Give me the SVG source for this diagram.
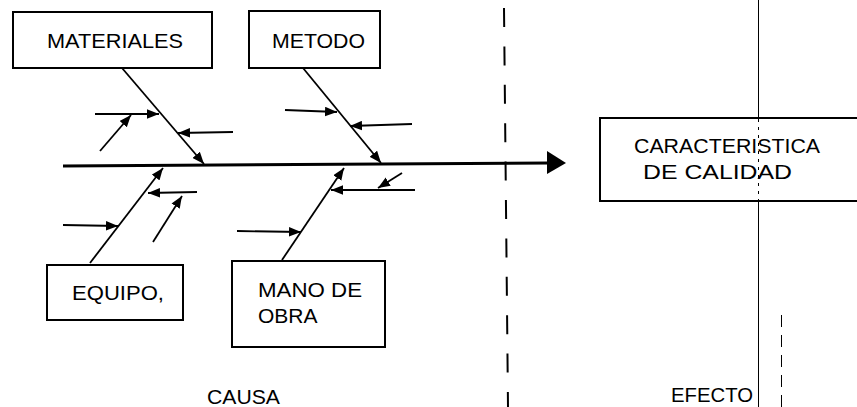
<svg xmlns="http://www.w3.org/2000/svg" width="857" height="407" viewBox="0 0 857 407">
<style>
.box{fill:#fff;stroke:#000;stroke-width:2}
.t{font-family:"Liberation Sans",Arial,sans-serif;font-size:21px;fill:#000}
.sub{stroke:#000;stroke-width:1.8;fill:none;marker-end:url(#ah)}
</style>
<defs>
<marker id="ah" viewBox="0 0 10 8" refX="10" refY="4" markerWidth="12" markerHeight="10" markerUnits="userSpaceOnUse" orient="auto">
<path d="M0,0 L10,4 L0,8 z" fill="#000"/>
</marker>
</defs>
<rect width="857" height="407" fill="#fff"/>
<g id="dividers">
<line x1="504" y1="8" x2="508" y2="407" stroke="#000" stroke-width="2" stroke-dasharray="19 19.4"/>
<line x1="758.5" y1="0" x2="758.5" y2="407" stroke="#000" stroke-width="1"/>
<line x1="781.5" y1="315" x2="781.5" y2="407" stroke="#000" stroke-width="1" stroke-dasharray="12 8"/>
</g>
<g id="connectors">
<line x1="63" y1="166" x2="550" y2="163" stroke="#000" stroke-width="3"/>
<polygon points="547,151 566,163 547,174" fill="#000"/>
<line class="sub" x1="122" y1="68" x2="204" y2="164"/>
<line class="sub" x1="95" y1="114" x2="159" y2="114"/>
<line class="sub" x1="100" y1="151" x2="131" y2="115"/>
<line class="sub" x1="233" y1="132" x2="178" y2="133"/>
<line class="sub" x1="303" y1="68" x2="381" y2="163"/>
<line class="sub" x1="285" y1="110" x2="337" y2="112"/>
<line class="sub" x1="412" y1="124" x2="350" y2="126"/>
<line class="sub" x1="90" y1="263" x2="163" y2="168"/>
<line class="sub" x1="63" y1="225" x2="118" y2="226"/>
<line class="sub" x1="197" y1="192" x2="148" y2="193"/>
<line class="sub" x1="153" y1="242" x2="182" y2="196"/>
<line class="sub" x1="282" y1="260" x2="344" y2="168"/>
<line class="sub" x1="237" y1="231" x2="301" y2="232"/>
<line class="sub" x1="415" y1="190" x2="331" y2="190"/>
<line class="sub" x1="402" y1="173" x2="378" y2="188"/>
</g>
<g id="materiales">
<rect class="box" x="13" y="12" width="199" height="56"/>
<text class="t" x="47" y="48" textLength="136" lengthAdjust="spacingAndGlyphs">MATERIALES</text>
</g>
<g id="metodo">
<rect class="box" x="249" y="11" width="131" height="57"/>
<text class="t" x="272" y="48" textLength="93" lengthAdjust="spacingAndGlyphs">METODO</text>
</g>
<g id="equipo">
<rect class="box" x="47" y="265" width="136" height="55"/>
<text class="t" x="72" y="300" textLength="92" lengthAdjust="spacingAndGlyphs">EQUIPO,</text>
</g>
<g id="mano-de-obra">
<rect class="box" x="232" y="261" width="153" height="86"/>
<text class="t" x="258" y="297" textLength="104" lengthAdjust="spacingAndGlyphs">MANO DE</text>
<text class="t" x="258" y="323">OBRA</text>
</g>
<g id="caracteristica">
<rect class="box" x="600" y="118" width="270" height="83"/>
<line x1="758.5" y1="119" x2="758.5" y2="200" stroke="#000" stroke-width="1" stroke-dasharray="3 5"/>
<text class="t" x="634" y="153" textLength="186" lengthAdjust="spacingAndGlyphs">CARACTERISTICA</text>
<text class="t" x="643" y="179" textLength="149" lengthAdjust="spacingAndGlyphs">DE CALIDAD</text>
</g>
<g id="labels">
<text class="t" x="207" y="404" textLength="73" lengthAdjust="spacingAndGlyphs">CAUSA</text>
<text class="t" x="671" y="402" textLength="82" lengthAdjust="spacingAndGlyphs">EFECTO</text>
</g>
</svg>
